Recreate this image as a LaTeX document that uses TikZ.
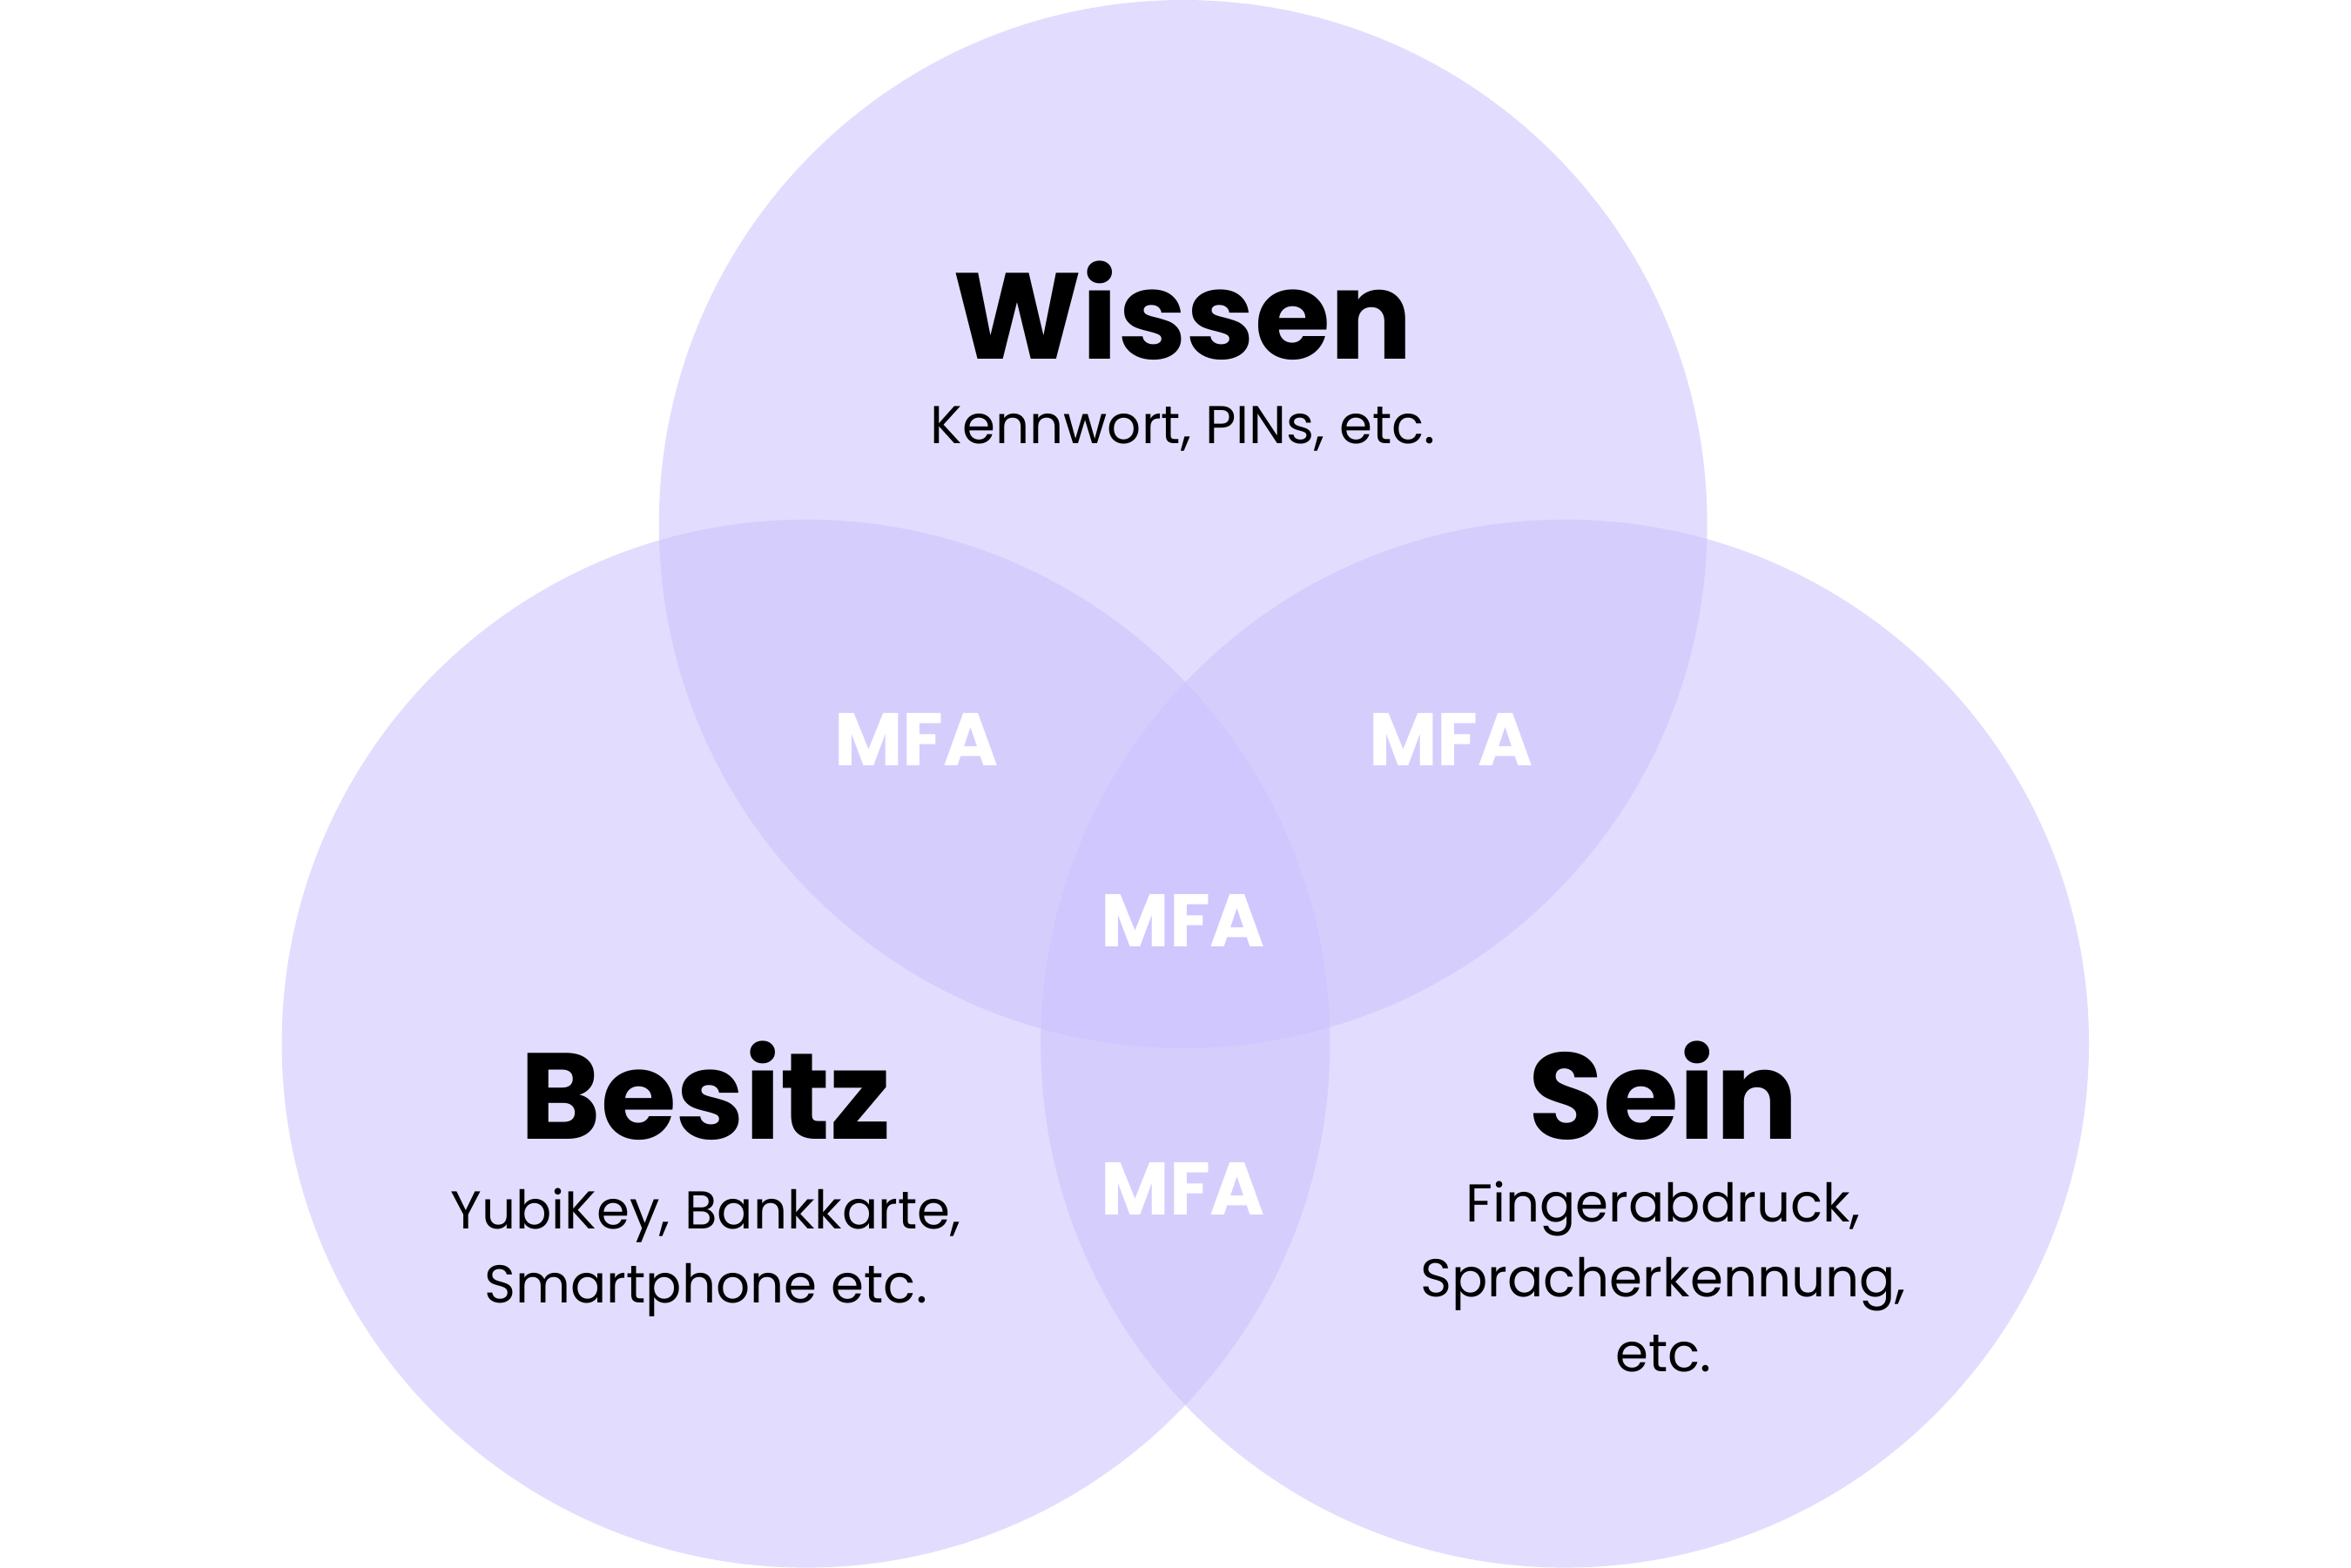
\documentclass[tikz,border=0pt]{standalone}
\usepackage{fontspec}
\setmainfont{Poppins}
\definecolor{lavender}{RGB}{202,193,253}
\tikzset{%
  circ/.style  = {fill = lavender, fill opacity = 0.55, draw = none},
  title/.style = {font = \fontsize{23}{26}\selectfont\bfseries, text = black},
  sub/.style   = {font = \fontsize{10}{14}\selectfont, align = center, text = black},
  mfa/.style   = {font = \fontsize{14}{16}\selectfont\bfseries, text = white}
}
\begin{document}
\begin{tikzpicture}
\useasboundingbox (0,0) rectangle (15.52,10.35);
%circles
\fill[circ] (7.81,6.89) circle (3.46);
\fill[circ] (5.32,3.46) circle (3.46);
\fill[circ] (10.33,3.46) circle (3.46);
%titles
\node[title] (wissen) at (7.81,8.30) {Wissen};
\node[sub] (wissensub) at (7.81,7.52) {Kennwort, PINs, etc.};
\node[title] (besitz) at (4.66,3.15) {Besitz};
\node[sub] (besitzsub) at (4.66,2.08) {YubiKey, Bankkarte,\\Smartphone etc.};
\node[title] (sein) at (10.98,3.15) {Sein};
\node[sub] (seinsub) at (10.98,1.92) {Fingerabdruck,\\Spracherkennung,\\etc.};
%intersections
\node[mfa] (mfa1) at (6.05,5.47) {MFA};
\node[mfa] (mfa2) at (9.58,5.47) {MFA};
\node[mfa] (mfa3) at (7.81,4.27) {MFA};
\node[mfa] (mfa4) at (7.81,2.50) {MFA};
\end{tikzpicture}
\end{document}
